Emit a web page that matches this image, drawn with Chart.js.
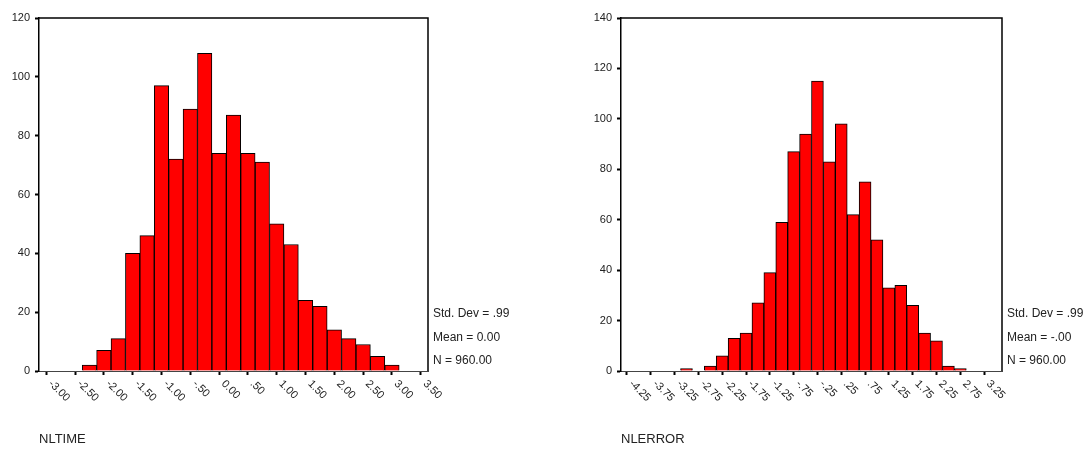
<!DOCTYPE html>
<html>
<head>
<meta charset="utf-8">
<script src="https://cdn.jsdelivr.net/npm/chart.js@4/dist/chart.umd.min.js"></script>
<style>
  body { margin: 0; background: #fff; }
  #wrap { position: relative; width: 1086px; height: 450px; overflow: hidden; }
  canvas { position: absolute; top: 0; }
</style>
</head>
<body>
<div id="wrap">
  <canvas id="timeChart" width="560" height="450" style="left:0"></canvas>
  <canvas id="errorChart" width="526" height="450" style="left:560px"></canvas>
</div>
<script>
// histogram bins (bin centres), counts and the labelled ticks
const timeBins = [-3.00, -2.75, -2.50, -2.25, -2.00, -1.75, -1.50, -1.25, -1.00, -0.75, -0.50, -0.25, 0.00,
  0.25, 0.50, 0.75, 1.00, 1.25, 1.50, 1.75, 2.00, 2.25, 2.50, 2.75, 3.00, 3.25, 3.50];
const timeCounts = [0, 0, 0, 2, 7, 11, 40, 46, 97, 72, 89, 108, 74,
  87, 74, 71, 50, 43, 24, 22, 14, 11, 9, 5, 2, 0, 0];
const timeTickLabels = ['-3.00', '-2.50', '-2.00', '-1.50', '-1.00', '-.50', '0.00', '.50', '1.00', '1.50',
  '2.00', '2.50', '3.00', '3.50'];
const timeStats = ['Std. Dev = .99', 'Mean = 0.00', 'N = 960.00'];

const errorBins = [-4.25, -4.00, -3.75, -3.50, -3.25, -3.00, -2.75, -2.50, -2.25, -2.00, -1.75, -1.50, -1.25,
  -1.00, -0.75, -0.50, -0.25, 0.00, 0.25, 0.50, 0.75, 1.00, 1.25, 1.50, 1.75, 2.00, 2.25, 2.50, 2.75,
  3.00, 3.25, 3.50];
const errorCounts = [0, 0, 0, 0, 0, 1, 0, 2, 6, 13, 15, 27, 39,
  59, 87, 94, 115, 83, 98, 62, 75, 52, 33, 34, 26, 15, 12, 2, 1,
  0, 0, 0];
const errorTickLabels = ['-4.25', '-3.75', '-3.25', '-2.75', '-2.25', '-1.75', '-1.25', '-.75', '-.25', '.25',
  '.75', '1.25', '1.75', '2.25', '2.75', '3.25'];
const errorStats = ['Std. Dev = .99', 'Mean = -.00', 'N = 960.00'];

const FONT = '"Liberation Sans", Arial, sans-serif';
const TEXT = '#222';

// frame on top/right of the plot area
const framePlugin = {
  id: 'frame',
  afterDatasetsDraw(chart) {
    const {ctx, chartArea: a} = chart;
    ctx.save();
    ctx.strokeStyle = '#000';
    ctx.lineWidth = 1.5;
    ctx.beginPath();
    ctx.moveTo(a.left, a.top);
    ctx.lineTo(a.right, a.top);
    ctx.lineTo(a.right, a.bottom);
    ctx.stroke();
    ctx.restore();
  }
};

// slanted x tick labels (going down to the right) + the stats block
const textPlugin = {
  id: 'spssText',
  afterDraw(chart, args, opts) {
    const {ctx, chartArea: a} = chart;
    const xs = chart.scales.x;
    ctx.save();
    ctx.fillStyle = TEXT;
    ctx.font = '11px ' + FONT;
    ctx.textAlign = 'left';
    ctx.textBaseline = 'middle';
    opts.ticks.forEach(t => {
      const i = opts.bins.indexOf(parseFloat(t));
      if (i < 0) return;
      const px = xs.getPixelForTick(i);
      ctx.save();
      ctx.translate(px + 4, xs.top + 11);
      ctx.rotate(Math.PI / 4);
      ctx.fillText(t, 0, 0);
      ctx.restore();
    });
    ctx.font = '12px ' + FONT;
    opts.stats.forEach((s, k) => {
      ctx.fillText(s, a.right + 5, 314 + k * 23.5);
    });
    ctx.restore();
  }
};

function makeHist(id, bins, counts, tickLabels, stats, yMax, yWidth, padRight, title) {
  const tickSet = tickLabels.map(t => parseFloat(t));
  return new Chart(document.getElementById(id), {
    type: 'bar',
    data: {
      labels: bins.map(b => b.toFixed(2)),
      datasets: [{
        data: counts,
        backgroundColor: '#ff0000',
        borderColor: '#000',
        borderWidth: 1,
        barPercentage: 1,
        categoryPercentage: 1
      }]
    },
    options: {
      responsive: false,
      animation: false,
      layout: { padding: { left: 0, top: 18, right: padRight, bottom: 0 } },
      plugins: {
        legend: { display: false },
        tooltip: { enabled: false },
        spssText: { bins: bins, ticks: tickLabels, stats: stats }
      },
      scales: {
        x: {
          offset: true,
          grid: {
            offset: false,
            drawOnChartArea: false,
            tickLength: 4,
            tickWidth: 2,
            tickColor: c => tickSet.includes(bins[c.index]) ? '#000' : 'rgba(0,0,0,0)'
          },
          border: { color: '#444', width: 1 },
          ticks: { display: false, autoSkip: false },
          title: {
            display: true,
            text: title,
            align: 'start',
            color: TEXT,
            font: { family: FONT, size: 13 },
            padding: { top: 0, bottom: 3 }
          },
          afterFit: s => { s.height = 79; }
        },
        y: {
          min: 0,
          max: yMax,
          ticks: { stepSize: 20, color: TEXT, font: { family: FONT, size: 11 }, padding: 5 },
          grid: { drawOnChartArea: false, tickLength: 4, tickWidth: 2, tickColor: '#000' },
          border: { color: '#000', width: 1.5 },
          afterFit: s => { s.width = yWidth; }
        }
      }
    },
    plugins: [framePlugin, textPlugin]
  });
}

makeHist('timeChart', timeBins, timeCounts, timeTickLabels, timeStats, 120, 39, 132, 'NLTIME');
makeHist('errorChart', errorBins, errorCounts, errorTickLabels, errorStats, 140, 61, 84, 'NLERROR');
</script>
</body>
</html>
